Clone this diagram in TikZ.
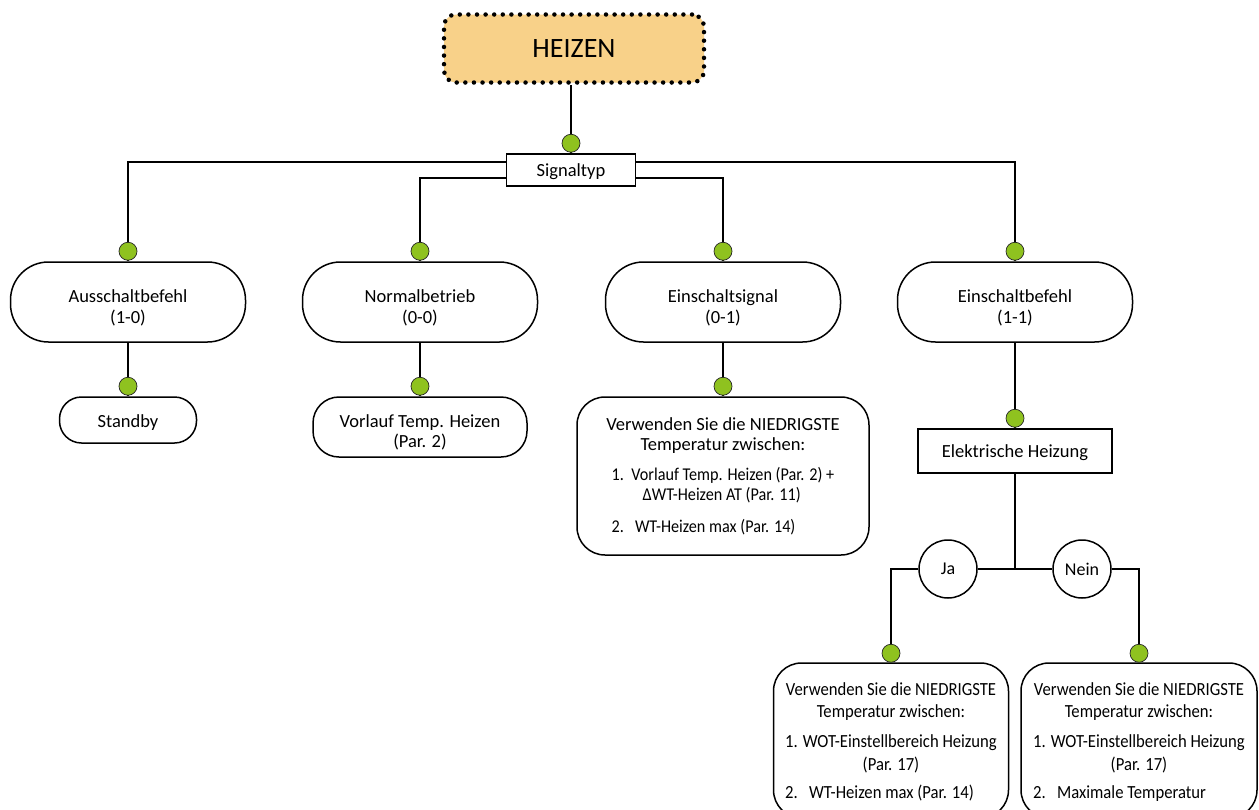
\documentclass[tikz,border=0pt]{standalone}
\usepackage{fontspec}
\setmainfont{Carlito}
\newfontfamily\narrowfont[FakeStretch=0.9]{Carlito}
\definecolor{heizenfill}{HTML}{F8D189}
\definecolor{dotgreen}{HTML}{8FC21F}
% invisible strut that lowers a centred text block inside its box
\newcommand\lowerby[1]{\rule{0pt}{#1}}

\begin{document}
\begin{tikzpicture}[x=1pt,y=1pt,
  conn/.style={line width=2.2pt, draw=black},
  boxline/.style={draw=black, line width=1.5pt, fill=white, inner sep=0pt, align=center},
  titlebox/.style={fill=heizenfill, rounded corners=12pt, draw=black,
    dash pattern=on 0pt off 8.6pt, line cap=round, line width=4.5pt,
    minimum width=260pt, minimum height=68pt, inner sep=0pt,
    font=\fontsize{28}{32}\selectfont},
  squarebox/.style={boxline, rectangle, font=\fontsize{18.5}{21}\selectfont},
  pill/.style={boxline, rounded corners=38pt, minimum width=235pt,
    minimum height=80pt, font=\fontsize{18.5}{21}\selectfont},
  leafbox/.style={boxline, font=\fontsize{18.5}{20}\selectfont},
  notebox/.style={boxline, rounded corners=28pt},
  choice/.style={boxline, circle, minimum size=58pt, font=\fontsize{18}{21}\selectfont},
  joint/.style={circle, fill=dotgreen, draw=black!85, line width=0.7pt,
    minimum size=18pt, inner sep=0pt},
]
\useasboundingbox (0,0) rectangle (1259,-809);

% ---- nodes ----
\node[titlebox] (heizen) at (574,-48.5) {HEIZEN};
\node[squarebox, minimum width=129pt, minimum height=32pt] (sig) at (571,-170) {\lowerby{17pt}Signaltyp};

\node[pill] (aus)  at (128,-302)  {\lowerby{25pt}Ausschaltbefehl\\(1-0)};
\node[pill] (norm) at (420,-302)  {\lowerby{25pt}Normalbetrieb\\(0-0)};
\node[pill] (esig) at (723,-302)  {\lowerby{25pt}Einschaltsignal\\(0-1)};
\node[pill] (ebef) at (1015,-302) {\lowerby{25pt}Einschaltbefehl\\(1-1)};

\node[leafbox, rounded corners=22pt, minimum width=137pt, minimum height=46pt]
  (standby) at (128,-420) {\lowerby{18pt}Standby};
\node[leafbox, rounded corners=26pt, minimum width=214pt, minimum height=60pt]
  (vorlauf) at (420,-427) {\lowerby{24pt}Vorlauf Temp. Heizen\\(Par. 2)};

\node[notebox, minimum width=292pt, minimum height=158pt,
  font=\fontsize{18.5}{20.5}\selectfont] (nied) at (723,-476)
  {\lowerby{17pt}Verwenden Sie die NIEDRIGSTE\\Temperatur zwischen:\\[9pt]
   \fontsize{18}{20.5}\narrowfont\begin{tabular}[t]{@{}l@{}}
     1.\ \ Vorlauf Temp. Heizen (Par. 2) +\\
     \hspace{31pt}ΔWT-Heizen AT (Par. 11)\\[11pt]
     2.\ \ \ WT-Heizen max (Par. 14)
   \end{tabular}};

\node[squarebox, minimum width=194pt, minimum height=44pt] (eh) at (1015,-451) {\lowerby{16pt}Elektrische Heizung};

\node[choice] (ja)   at (948,-569)  {Ja};
\node[choice] (nein) at (1082,-569) {Nein};

\node[notebox, minimum width=235pt, minimum height=155pt,
  font=\fontsize{18.5}{22.5}\narrowfont] (bj) at (891,-740.5)
  {\lowerby{19pt}Verwenden Sie die NIEDRIGSTE\\Temperatur zwischen:\\[7.5pt]
   \begin{tabular}[t]{@{}l@{}}
     1. WOT-Einstellbereich Heizung\\
     \multicolumn{1}{@{}c@{}}{(Par. 17)}\\[5.5pt]
     2.\ \ \ WT-Heizen max (Par. 14)
   \end{tabular}};
\node[notebox, minimum width=236pt, minimum height=155pt,
  font=\fontsize{18.5}{22.5}\narrowfont] (bn) at (1139,-740.5)
  {\lowerby{19pt}Verwenden Sie die NIEDRIGSTE\\Temperatur zwischen:\\[7.5pt]
   \begin{tabular}[t]{@{}l@{}}
     1. WOT-Einstellbereich Heizung\\
     \multicolumn{1}{@{}c@{}}{(Par. 17)}\\[5.5pt]
     2.\ \ \ Maximale Temperatur
   \end{tabular}};

% ---- connectors ----
\draw[conn] (sig.north) -- (sig.north |- heizen.south);
\draw[conn] ([yshift=8pt]sig.west)  -| (aus.north);
\draw[conn] ([yshift=-8pt]sig.west) -| (norm.north);
\draw[conn] ([yshift=-8pt]sig.east) -| (esig.north);
\draw[conn] ([yshift=8pt]sig.east)  -| (ebef.north);
\draw[conn] (aus.south)  -- (aus.south |- standby.north);
\draw[conn] (norm.south) -- (norm.south |- vorlauf.north);
\draw[conn] (esig.south) -- (esig.south |- nied.north);
\draw[conn] (ebef.south) -- (ebef.south |- eh.north);
\draw[conn] (eh.south) -- (eh.south |- ja.east);
\draw[conn] (ja.east) -- (nein.west);
\draw[conn] (ja.west) -| (bj.north);
\draw[conn] (nein.east) -| (bn.north);

% ---- junction dots on the receiving boxes ----
\node[joint] (d0) at ([yshift=10pt]sig.north) {};
\node[joint] (d1) at ([yshift=10pt]aus.north) {};
\node[joint] (d2) at ([yshift=10pt]norm.north) {};
\node[joint] (d3) at ([yshift=10pt]esig.north) {};
\node[joint] (d4) at ([yshift=10pt]ebef.north) {};
\node[joint] (d5) at ([yshift=10pt]aus.south |- standby.north) {};
\node[joint] (d6) at ([yshift=10pt]norm.south |- vorlauf.north) {};
\node[joint] (d7) at ([yshift=10pt]esig.south |- nied.north) {};
\node[joint] (d8) at ([yshift=10pt]ebef.south |- eh.north) {};
\node[joint] (d9) at ([yshift=9pt]bj.north) {};
\node[joint] (d10) at ([yshift=9pt]bn.north) {};
\end{tikzpicture}
\end{document}
